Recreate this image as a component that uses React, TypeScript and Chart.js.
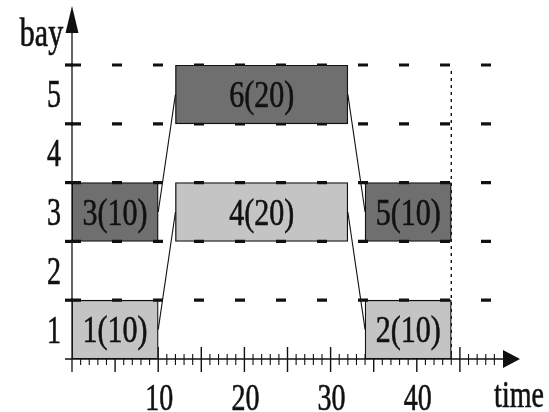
import React, { useEffect, useRef } from 'react';
import { Chart, registerables } from 'chart.js';

Chart.register(...registerables);

// ---- data ----
const bays = ['5', '4', '3', '2', '1'];
const jobIds = [1, 2, 3, 4, 5, 6];
const jobBays = ['1', '1', '3', '3', '3', '5'];
const jobStarts = [0, 34, 0, 12, 34, 12];
const jobDurations = [10, 10, 10, 20, 10, 20];
const darkJobs = [3, 5, 6];
const topJobs = [6];
const moveFrom = [1, 3, 6, 4];
const moveTo = [4, 6, 5, 2];
const timeTickLabels = [10, 20, 30, 40];
const timeMax = 50;
const horizon = 44;

// ---- style ----
const LIGHT = '#c4c4c4';
const DARK = '#6f6f6f';
const INK = '#111111';
const SERIF = '"Liberation Serif", "Times New Roman", serif';

const jobPoint = (id: number) => {
  const i = jobIds.indexOf(id);
  return { x: [jobStarts[i], jobStarts[i] + jobDurations[i]], y: jobBays[i], id, dur: jobDurations[i] };
};

function stretchedText(ctx: CanvasRenderingContext2D, text: string, cx: number, baseline: number, size: number, sy: number) {
  ctx.save();
  ctx.translate(cx, baseline);
  ctx.scale(1, sy);
  ctx.font = `${size}px ${SERIF}`;
  ctx.textAlign = 'center';
  ctx.textBaseline = 'alphabetic';
  ctx.fillStyle = INK;
  ctx.strokeStyle = INK;
  ctx.lineWidth = 0.45;
  ctx.fillText(text, 0, 0);
  ctx.strokeText(text, 0, 0);
  ctx.restore();
}

const decor = {
  id: 'decor',
  beforeDatasetsDraw(chart: any) {
    const { ctx, scales } = chart;
    const x = scales.x;
    const y = scales.y;
    const y0 = y.getPixelForValue(bays.length - 0.5);
    const yTop = y.getPixelForValue(-0.5);
    const x0 = x.getPixelForValue(0);
    const xEnd = x.getPixelForValue(timeMax);
    ctx.save();
    ctx.strokeStyle = INK;
    // x ticks
    for (let t = 1; t < timeMax; t++) {
      const px = x.getPixelForValue(t);
      const major = t % 5 === 0;
      ctx.lineWidth = major ? 1.4 : 1.1;
      ctx.beginPath();
      ctx.moveTo(px, y0 - (major ? 12 : 5));
      ctx.lineTo(px, y0 + (major ? 13 : 6));
      ctx.stroke();
    }
    // horizon dotted line
    ctx.lineWidth = 1.4;
    ctx.setLineDash([3, 4]);
    const hx = x.getPixelForValue(horizon);
    ctx.beginPath();
    ctx.moveTo(hx, yTop + 6);
    ctx.lineTo(hx, y0);
    ctx.stroke();
    ctx.setLineDash([]);
    // x axis
    ctx.lineWidth = 1.3;
    ctx.beginPath();
    ctx.moveTo(x0 - 7, y0);
    ctx.lineTo(xEnd, y0);
    ctx.stroke();
    ctx.fillStyle = INK;
    ctx.beginPath();
    ctx.moveTo(xEnd, y0 - 9);
    ctx.lineTo(xEnd + 17, y0);
    ctx.lineTo(xEnd, y0 + 9);
    ctx.closePath();
    ctx.fill();
    // y axis
    ctx.beginPath();
    ctx.moveTo(x0, y0 + 13);
    ctx.lineTo(x0, 33);
    ctx.stroke();
    ctx.beginPath();
    ctx.moveTo(x0 - 6.5, 33);
    ctx.lineTo(x0, 6);
    ctx.lineTo(x0 + 6.5, 33);
    ctx.closePath();
    ctx.fill();
    ctx.restore();
  },
  afterDatasetDraw(chart: any, args: any) {
    if (args.index !== 0) return;
    const { ctx, scales } = chart;
    const x = scales.x;
    const y = scales.y;
    const x0 = x.getPixelForValue(0);
    ctx.save();
    ctx.strokeStyle = INK;
    ctx.lineWidth = 3.2;
    for (let k = 0; k < bays.length; k++) {
      const py = y.getPixelForValue(k - 0.5);
      // y-axis tick
      ctx.setLineDash([]);
      ctx.beginPath();
      ctx.moveTo(x0 - 7, py);
      ctx.lineTo(x0 + 1, py);
      ctx.stroke();
      // dashed row boundary
      ctx.setLineDash([10, 31]);
      ctx.beginPath();
      ctx.moveTo(x0 - 1, py);
      ctx.lineTo(x0 + 420, py);
      ctx.stroke();
    }
    ctx.restore();
  },
  afterDraw(chart: any) {
    const { ctx, scales } = chart;
    const x = scales.x;
    const y = scales.y;
    const y0 = y.getPixelForValue(bays.length - 0.5);
    const x0 = x.getPixelForValue(0);
    // bay labels
    bays.forEach((b) => {
      const py = y.getPixelForValue(b);
      stretchedText(ctx, b, x0 - 18, py + 13, 28, 1.4);
    });
    // time labels
    timeTickLabels.forEach((t) => {
      stretchedText(ctx, String(t), x.getPixelForValue(t) + 1, y0 + 51, 28, 1.38);
    });
    // axis titles
    stretchedText(ctx, 'bay', 41.5, 46, 30, 1.35);
    stretchedText(ctx, 'time', 519, 407, 28, 1.35);
    // job labels
    chart.data.datasets.forEach((ds: any, di: number) => {
      if (ds.type === 'line') return;
      const meta = chart.getDatasetMeta(di);
      meta.data.forEach((el: any, j: number) => {
        const p = ds.data[j];
        const cx = (el.x + el.base) / 2;
        stretchedText(ctx, `${p.id}(${p.dur})`, cx, el.y + 12.5, 30, 1.28);
      });
    });
  },
};

export default function App() {
  const ref = useRef<HTMLCanvasElement | null>(null);
  useEffect(() => {
    if (!ref.current) return;
    const barCommon = {
      type: 'bar' as const,
      indexAxis: 'y' as const,
      grouped: false,
      barPercentage: 1,
      categoryPercentage: 1,
      borderColor: INK,
      borderWidth: 1.3,
      borderSkipped: false,
    };
    const lowerIds = jobIds.filter((id) => !topJobs.includes(id));
    const colorFor = (id: number) => (darkJobs.includes(id) ? DARK : LIGHT);
    const datasets: any[] = [
      {
        ...barCommon,
        data: lowerIds.map(jobPoint),
        backgroundColor: lowerIds.map(colorFor),
        order: 2,
      },
      {
        ...barCommon,
        data: topJobs.map(jobPoint),
        backgroundColor: topJobs.map(colorFor),
        order: 1,
      },
      ...moveFrom.map((a, k) => {
        const ia = jobIds.indexOf(a);
        const ib = jobIds.indexOf(moveTo[k]);
        return {
          type: 'line',
          data: [
            { x: jobStarts[ia] + jobDurations[ia], y: jobBays[ia] },
            { x: jobStarts[ib], y: jobBays[ib] },
          ],
          borderColor: INK,
          borderWidth: 1.1,
          pointRadius: 0,
          fill: false,
          order: 3,
        };
      }),
    ];
    const chart = new Chart(ref.current, {
      type: 'bar',
      data: { datasets },
      options: {
        responsive: false,
        animation: false,
        devicePixelRatio: 1,
        layout: { padding: { left: 72, right: 46, top: 65, bottom: 53 } },
        plugins: { legend: { display: false }, tooltip: { enabled: false } },
        scales: {
          x: { type: 'linear', min: 0, max: timeMax, offset: false, display: false, grid: { offset: false } },
          y: { type: 'category', labels: bays, offset: true, display: false },
        },
      },
      plugins: [decor],
    } as any);
    return () => chart.destroy();
  }, []);
  return (
    <div style={{ position: 'fixed', left: 0, top: 0, width: 549, height: 412, background: '#fff' }}>
      <canvas ref={ref} width={549} height={412} style={{ display: 'block' }} />
    </div>
  );
}
